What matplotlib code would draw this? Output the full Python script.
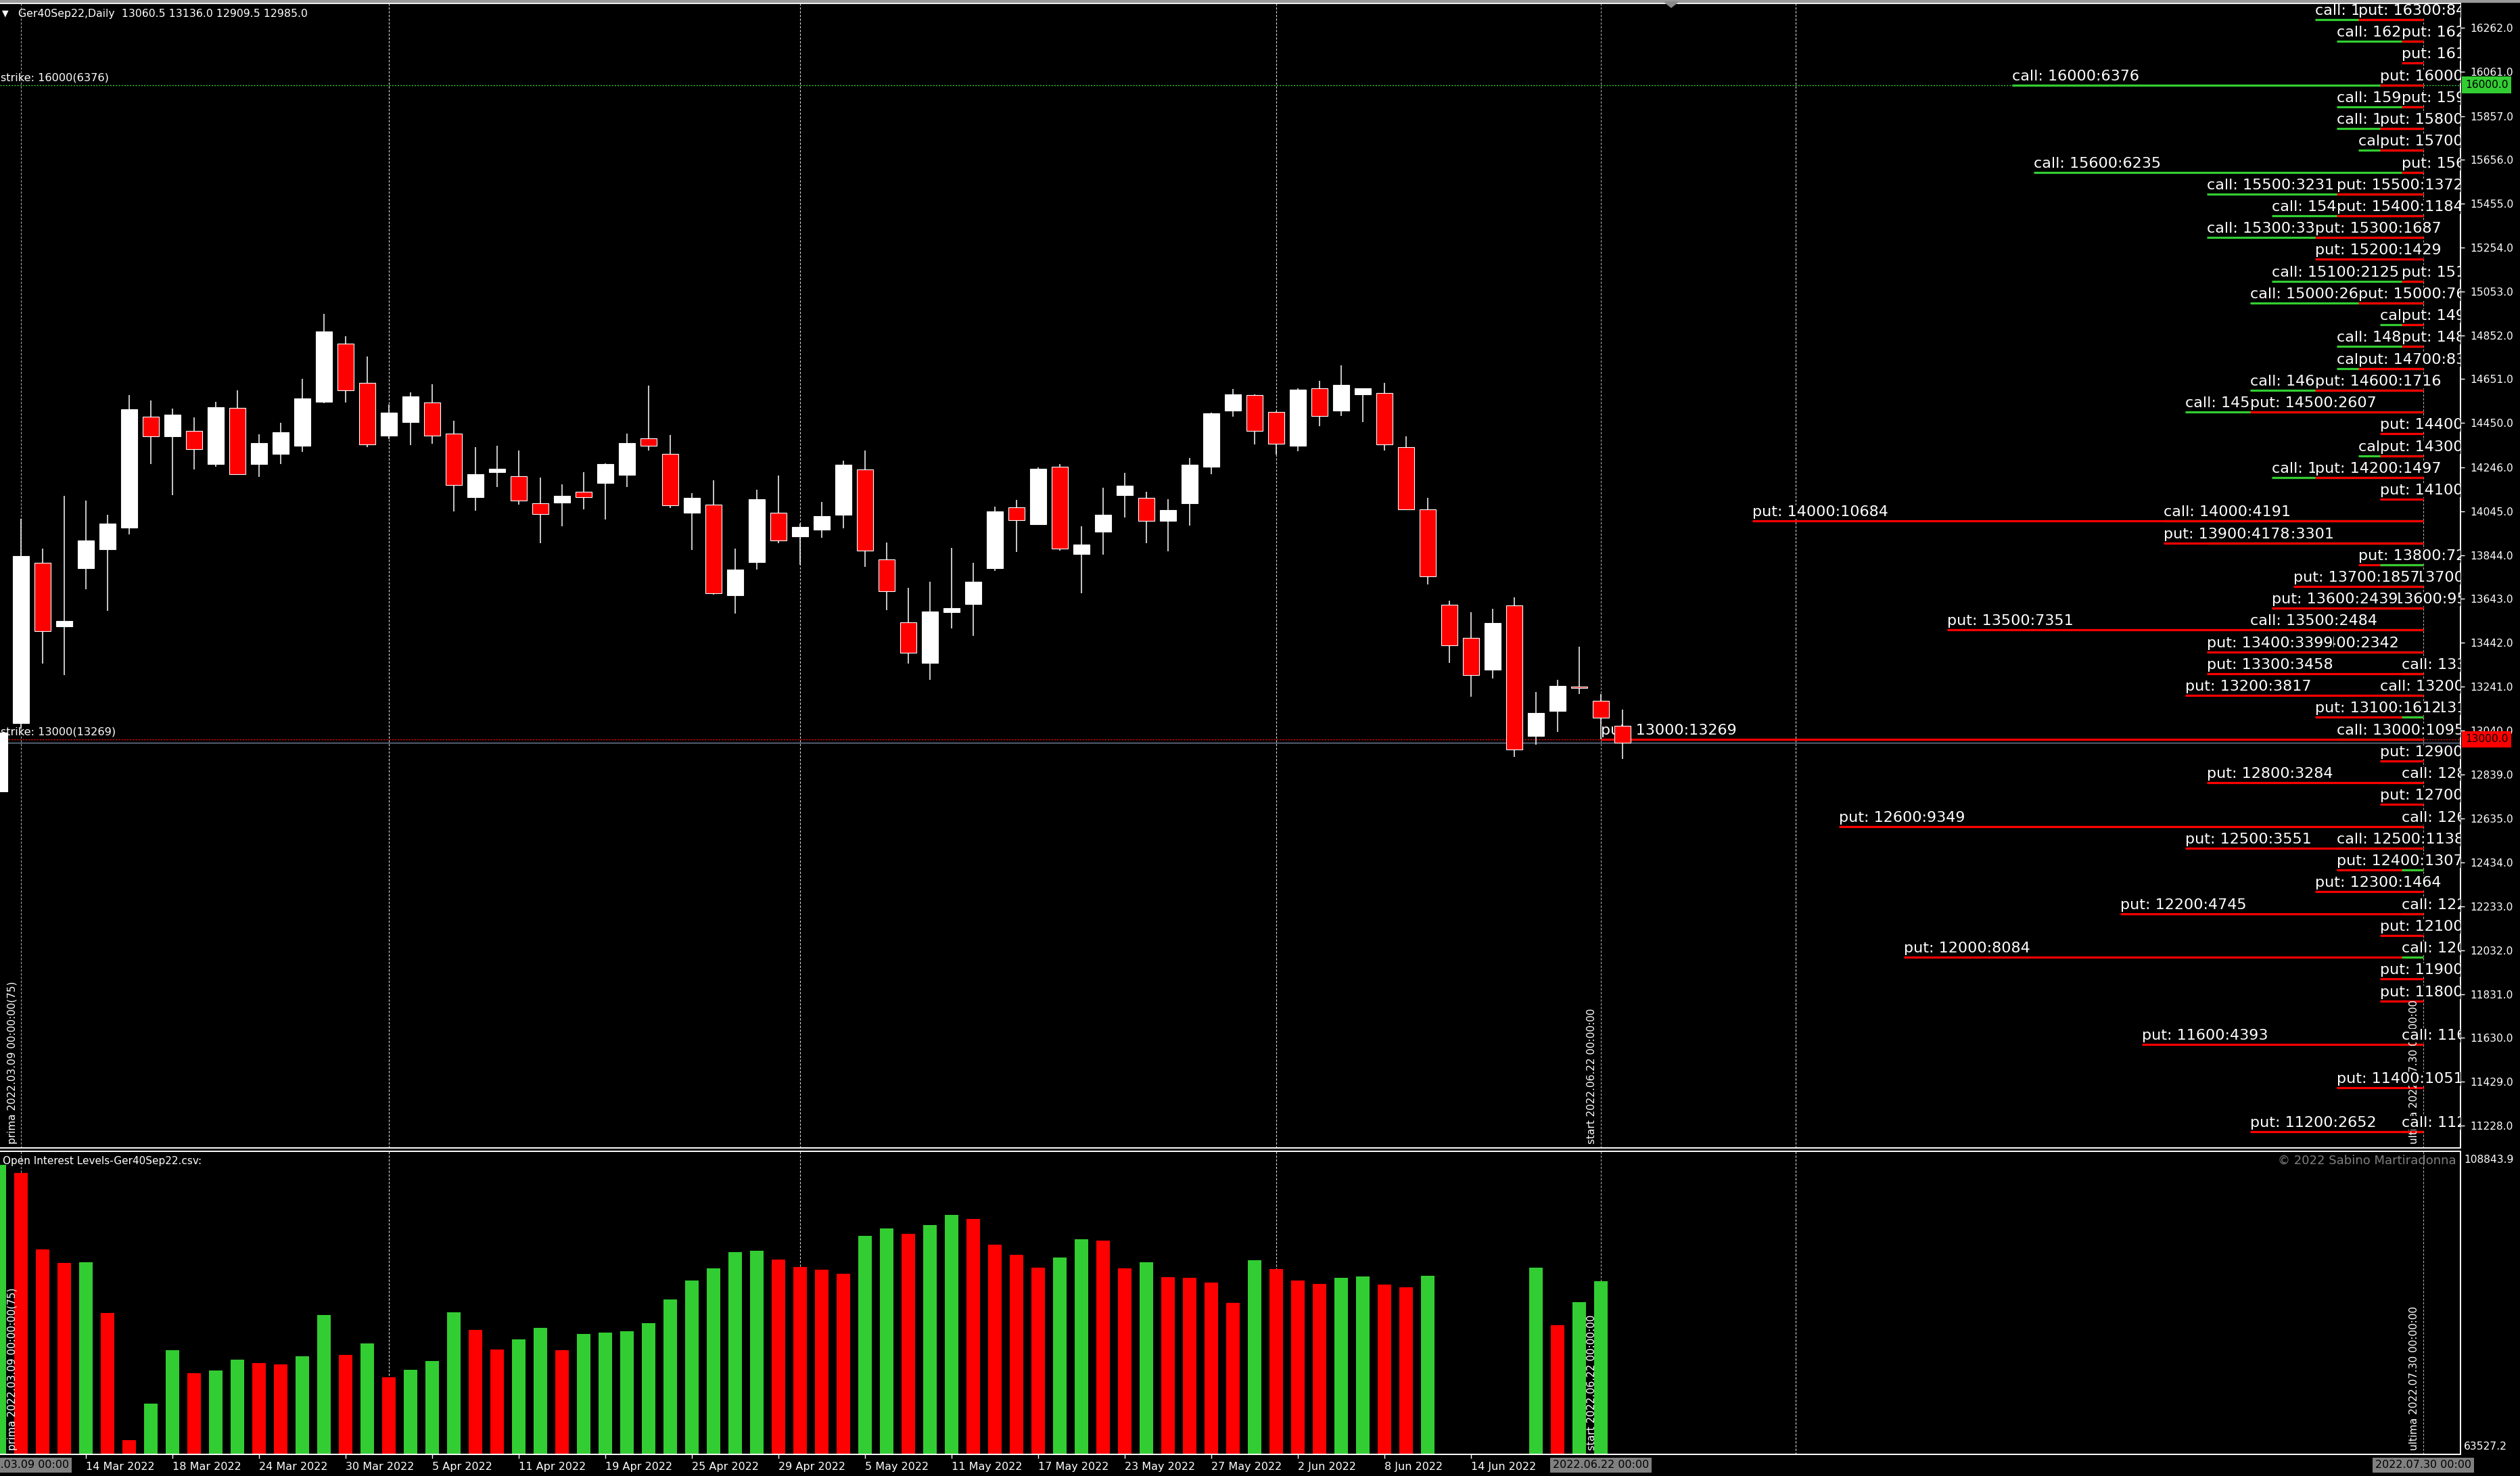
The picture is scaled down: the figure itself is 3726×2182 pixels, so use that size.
import math
import numpy as np
import matplotlib
matplotlib.use("Agg")
import matplotlib.pyplot as plt
from matplotlib import transforms
from matplotlib.patches import Rectangle, Polygon

# ---------------- data ----------------
# bar index 0 = 2022.03.09 ; index -1 = previous day (partly visible)
bar_idx = np.arange(-1, 75)
opens = [12760, 13072, 13810, 13518, 13785, 13872, 13969, 14480, 14389, 14414,
         14260, 14518, 14263, 14309, 14345, 14547, 14813, 14633, 14392, 14455,
         14544, 14400, 14108, 14223, 14205, 14083, 14084, 14133, 14176, 14212,
         14379, 14307, 14039, 14075, 13659, 13812, 14037, 13931, 13962, 14028,
         14238, 13823, 13535, 13348, 13583, 13618, 13785, 14062, 13987, 14248,
         13850, 13950, 14120, 14106, 14000, 14083, 14250, 14508, 14577, 14500,
         14345, 14609, 14507, 14581, 14586, 14340, 14055, 13615, 13463, 13320,
         13612, 13015, 13130, 13240, 13176, 13060.5]
highs = [13045, 14011, 13875, 14115, 14094, 14030, 14577, 14554, 14516, 14476,
         14547, 14600, 14399, 14451, 14652, 14950, 14847, 14755, 14534, 14590,
         14627, 14460, 14339, 14345, 14324, 14201, 14169, 14224, 14265, 14401,
         14622, 14395, 14129, 14187, 13875, 14144, 14208, 13990, 14088, 14277,
         14324, 13903, 13695, 13723, 13878, 13809, 14066, 14097, 14246, 14263,
         13976, 14154, 14221, 14134, 14100, 14289, 14498, 14606, 14581, 14505,
         14608, 14642, 14714, 14610, 14634, 14389, 14106, 13634, 13582, 13598,
         13650, 13216, 13271, 13424, 13208, 13136.0]
lows = [12740, 13050, 13346, 13294, 13688, 13589, 13940, 14260, 14118, 14238,
        14249, 14212, 14202, 14262, 14316, 14540, 14544, 14339, 14377, 14349,
        14354, 14044, 14047, 14155, 14076, 13900, 13976, 14055, 14007, 14155,
        14324, 14059, 13867, 13663, 13576, 13778, 13899, 13800, 13924, 13968,
        13791, 13590, 13345, 13271, 13508, 13475, 13770, 13857, 13985, 13864,
        13670, 13845, 14015, 13900, 13860, 13978, 14216, 14480, 14353, 14304,
        14322, 14435, 14483, 14455, 14325, 14050, 13709, 13349, 13193, 13277,
        12917, 12975, 13033, 13208, 13000, 12909.5]
closes = [13030, 13839, 13494, 13541, 13911, 13989, 14512, 14388, 14487, 14331,
          14522, 14216, 14357, 14407, 14562, 14870, 14601, 14353, 14497, 14572,
          14393, 14165, 14214, 14239, 14093, 14033, 14116, 14111, 14262, 14357,
          14346, 14073, 14106, 13670, 13778, 14100, 13911, 13974, 14022, 14259,
          13866, 13679, 13397, 13586, 13601, 13722, 14044, 14003, 14239, 13874,
          13892, 14029, 14162, 14000, 14051, 14259, 14494, 14581, 14412, 14356,
          14602, 14483, 14624, 14608, 14353, 14055, 13748, 13429, 13294, 13533,
          12954, 13121, 13244, 13234, 13098, 12985.0]

# open interest total per day (lower panel), index -1 .. 73
oi_idx = np.arange(-1, 74)
nan = float("nan")
oi_vals = [106800, 105610, 94180, 92155, 92256, 84669, 65651, 71114, 79106, 75666,
           76070, 77689, 77184, 76981, 78195, 84366, 78398, 80117, 75059, 76172,
           77487, 84771, 82141, 79207, 80725, 82444, 79106, 81534, 81737, 81939,
           83153, 86693, 89526, 91346, 93774, 93976, 92661, 91549, 91144, 90537,
           96202, 97314, 96505, 97820, 99338, 98731, 94887, 93369, 91447, 92964,
           95696, 95493, 91346, 92256, 90031, 89930, 89222, 86187, 92560, 91245,
           89526, 89020, 89930, 90132, 88919, 88514, 90233, nan, nan, nan,
           nan, 91447, 82849, 86288, 89424]
oi_range = (63527.2, 108843.9)

# option strikes with call / put open interest
strikes = [16300, 16200, 16100, 16000, 15900, 15800, 15700, 15600, 15500, 15400,
           15300, 15200, 15100, 15000, 14900, 14800, 14700, 14600, 14500, 14400,
           14300, 14200, 14100, 14000, 13900, 13800, 13700, 13600, 13500, 13400,
           13300, 13200, 13100, 13000, 12900, 12800, 12700, 12600, 12500, 12400,
           12300, 12200, 12100, 12000, 11900, 11800, 11700, 11600, 11500, 11400,
           11300, 11200]
call_oi = [1600, 1250, 0, 6376, 1190, 1120, 880, 6235, 3231, 2300,
           3350, 0, 2125, 2650, 560, 1200, 1150, 2600, 3700, 0,
           920, 2250, 0, 4191, 3301, 520, 600, 950, 2484, 2342,
           260, 480, 310, 1095, 0, 240, 0, 200, 1138, 150,
           0, 260, 0, 190, 0, 0, 0, 220, 0, 0,
           0, 170]
put_oi = [840, 210, 180, 520, 300, 600, 450, 150, 1372, 1184,
          1687, 1429, 250, 760, 230, 280, 830, 1716, 2607, 610,
          520, 1497, 560, 10684, 4178, 720, 1857, 2439, 7351, 3399,
          3458, 3817, 1612, 13269, 590, 3284, 520, 9349, 3551, 1307,
          1464, 4745, 480, 8084, 430, 400, 0, 4393, 0, 1051,
          0, 2652]
call_on_top = [13800, 13100, 12400, 12000]

price_ticks = [16262, 16061, 15857, 15656, 15455, 15254, 15053, 14852, 14651, 14450,
               14246, 14045, 13844, 13643, 13442, 13241, 13040, 12839, 12635, 12434,
               12233, 12032, 11831, 11630, 11429, 11228]
date_idx = [3, 7, 11, 15, 19, 23, 27, 31, 35, 39, 43, 47, 51, 55, 59, 63, 67]
date_lbl = ['14 Mar 2022', '18 Mar 2022', '24 Mar 2022', '30 Mar 2022', '5 Apr 2022',
            '11 Apr 2022', '19 Apr 2022', '25 Apr 2022', '29 Apr 2022', '5 May 2022',
            '11 May 2022', '17 May 2022', '23 May 2022', '27 May 2022', '2 Jun 2022',
            '8 Jun 2022', '14 Jun 2022']
month_grid = [17, 36, 58, 82]
prima_i, start_i, ultima_i = 0, 73, 111
prima_txt = 'prima 2022.03.09 00:00:00(75)'
start_txt = 'start 2022.06.22 00:00:00'
ultima_txt = 'ultima 2022.07.30 00:00:00'
box_txt = {0: '2022.03.09 00:00', 73: '2022.06.22 00:00', 111: '2022.07.30 00:00'}
header = 'Ger40Sep22,Daily  13060.5 13136.0 12909.5 12985.0'

# ---------------- layout ----------------
W, H, DPI = 3726, 2182, 100
PX0, PXBAR = 31, 32
RIGHT_PX = 3638
MAIN_TOP, MAIN_BOT = 5, 1697
VOL_TOP, VOL_BOT = 1702, 2150
def price_at(y):
    return 16389.5 - 3.102 * y

GREEN = '#32cd32'
RED = '#ff0000'
R_END = 111
OI_PER_BAR = 349.5

fig = plt.figure(figsize=(W / DPI, H / DPI), dpi=DPI, facecolor='black')
xlim = ((0 - PX0) / PXBAR, (RIGHT_PX - PX0) / PXBAR)
ax = fig.add_axes([0, 1 - MAIN_BOT / H, RIGHT_PX / W, (MAIN_BOT - MAIN_TOP) / H], facecolor='black')
axv = fig.add_axes([0, 1 - VOL_BOT / H, RIGHT_PX / W, (VOL_BOT - VOL_TOP) / H], facecolor='black')

for a in (ax, axv):
    a.set_xlim(*xlim)
    for sp in ('top', 'right', 'bottom'):
        a.spines[sp].set_color('white')
        a.spines[sp].set_linewidth(1.4)
    a.spines['left'].set_visible(False)
    # vertical lines
    for g in month_grid:
        a.axvline(g, color='#d8d8d8', lw=0.8, ls=(0, (3, 2)), zorder=1)
    for g in (prima_i, start_i, ultima_i):
        a.axvline(g, color='#a8a8a8', lw=0.8, ls=(0, (3, 2)), zorder=1)

ax.set_ylim(price_at(MAIN_BOT), price_at(MAIN_TOP))

# ---- candles ----
o = np.array(opens, float); h = np.array(highs, float)
l = np.array(lows, float); c = np.array(closes, float)
up = c >= o
ax.vlines(bar_idx, l, h, color='white', lw=1.1, zorder=4)
ax.bar(bar_idx[up], (c - o)[up], bottom=o[up], width=0.77, color='white',
       edgecolor='white', lw=0.8, zorder=5)
ax.bar(bar_idx[~up], (o - c)[~up], bottom=c[~up], width=0.77, color=RED,
       edgecolor='white', lw=0.8, zorder=5)

# ---- strike lines ----
ci = int(np.argmax(call_oi)); pi = int(np.argmax(put_oi))
max_call_strike, max_put_strike = strikes[ci], strikes[pi]
ax.axhline(max_call_strike, color=GREEN, lw=1.0, ls=(0, (1.5, 1.5)), zorder=1.5)
ax.axhline(max_put_strike, color=RED, lw=1.0, ls=(0, (1.5, 1.5)), zorder=1.5)
ax.axhline(closes[-1], color='#8090a8', lw=0.9, zorder=1.5)
left_tr = transforms.offset_copy(transforms.blended_transform_factory(ax.transAxes, ax.transData),
                                 fig=fig, x=1, y=3, units='dots')
ax.text(0, max_call_strike, f'strike: {max_call_strike}({call_oi[ci]})', transform=left_tr,
        color='white', fontsize=11.6, va='bottom', ha='left', zorder=3)
ax.text(0, max_put_strike, f'strike: {max_put_strike}({put_oi[pi]})', transform=left_tr,
        color='white', fontsize=11.6, va='bottom', ha='left', zorder=3)

# ---- option open interest lines and labels ----
lbl_tr = transforms.offset_copy(ax.transData, fig=fig, x=0, y=3, units='dots')
for s, cv, pv in zip(strikes, call_oi, put_oi):
    nc = math.ceil(cv / OI_PER_BAR) if cv > 0 else 0
    npb = math.ceil(pv / OI_PER_BAR) if pv > 0 else 0
    ctop = s in call_on_top
    if nc:
        ax.hlines(s, R_END - nc, R_END, colors=GREEN, lw=2.3, zorder=2.2 if ctop else 2.0)
        ax.text(R_END - nc, s, f'call: {s}:{cv}', transform=lbl_tr, color='white',
                fontsize=16, va='bottom', ha='left', clip_on=True, zorder=3.0,
                bbox=dict(boxstyle='square,pad=0', fc='black', ec='none'))
    if npb:
        ax.hlines(s, R_END - npb, R_END, colors=RED, lw=2.3, zorder=2.1)
        ax.text(R_END - npb, s, f'put: {s}:{pv}', transform=lbl_tr, color='white',
                fontsize=16, va='bottom', ha='left', clip_on=True, zorder=3.1,
                bbox=dict(boxstyle='square,pad=0', fc='black', ec='none'))

# ---- price axis ----
ax.yaxis.tick_right()
ax.set_yticks(price_ticks)
ax.set_yticklabels([f'{v:.1f}' for v in price_ticks])
ax.tick_params(axis='y', colors='white', length=4, width=1, pad=6, labelsize=11.2)
ax.set_xticks([])
for val, col in ((max_call_strike, GREEN), (max_put_strike, RED)):
    ax.annotate(f'{val:.1f}', xy=(1, val), xycoords=('axes fraction', 'data'),
                xytext=(7, 0), textcoords='offset pixels', ha='left', va='center',
                color='black', fontsize=11.2, annotation_clip=False, zorder=10,
                bbox=dict(boxstyle='square,pad=0.3', fc=col, ec='none'))

# ---- lower panel: open interest ----
axv.set_ylim(*oi_range)
vals = np.array(oi_vals, float)
cols, prev = [], None
for v in vals:
    if np.isnan(v):
        cols.append(GREEN)
        continue
    cols.append(GREEN if (prev is None or v >= prev) else RED)
    prev = v
ok = ~np.isnan(vals)
axv.bar(oi_idx[ok], vals[ok], width=0.6, color=np.array(cols)[ok], zorder=2)
axv.set_yticks([])
axv.set_xticks(date_idx)
axv.set_xticklabels(date_lbl)
for t in axv.get_xticklabels():
    t.set_ha('left')
axv.tick_params(axis='x', colors='white', length=4, width=1, pad=4, labelsize=11.5)
axv.annotate(f'{oi_range[1]:.1f}', xy=(1, 1), xycoords='axes fraction', xytext=(5, -5),
             textcoords='offset pixels', ha='left', va='top', color='white', fontsize=11.2,
             annotation_clip=False)
axv.annotate(f'{oi_range[0]:.1f}', xy=(1, 0), xycoords='axes fraction', xytext=(5, 4),
             textcoords='offset pixels', ha='left', va='bottom', color='white', fontsize=11.2,
             annotation_clip=False)
axv.annotate('Open Interest Levels-Ger40Sep22.csv:', xy=(0, 1), xycoords='axes fraction',
             xytext=(4, -7), textcoords='offset pixels', ha='left', va='top', color='white',
             fontsize=11, zorder=4)
axv.annotate('\u00a9 2022 Sabino Martiradonna', xy=(1, 1), xycoords='axes fraction',
             xytext=(-6, -5), textcoords='offset pixels', ha='right', va='top',
             color='#7f7f7f', fontsize=13, zorder=4)

# ---- vertical marker labels ----
for a, zo in ((ax, 2.5), (axv, 3)):
    for idx, txt in ((prima_i, prima_txt), (start_i, start_txt), (ultima_i, ultima_txt)):
        a.annotate(txt, xy=(idx, 0), xycoords=('data', 'axes fraction'), xytext=(-13, 6),
                   textcoords='offset pixels', rotation=90, rotation_mode='anchor',
                   ha='left', va='center', color='white', fontsize=11, zorder=zo,
                   annotation_clip=False)

for idx, txt in box_txt.items():
    axv.annotate(txt, xy=(idx, 0), xycoords=('data', 'axes fraction'), xytext=(0, -16),
                 textcoords='offset pixels', ha='center', va='center', color='black',
                 fontsize=11.5, annotation_clip=False, zorder=10,
                 bbox=dict(boxstyle='square,pad=0.25', fc='#808080', ec='none'))

# ---- header & window decorations ----
fig.patches.append(Rectangle((0, 1 - 3 / H), 1, 3 / H, transform=fig.transFigure,
                             color='#9a9a9a', zorder=0))
fig.patches.append(Polygon([(2461 / W, 1 - 3 / H), (2481 / W, 1 - 3 / H), (2471 / W, 1 - 11 / H)],
                           closed=True, transform=fig.transFigure, color='#8a8a8a'))
fig.text(3 / W, 1 - 20 / H, '\u25bc', color='white', fontsize=9, va='center', ha='left')
fig.text(27 / W, 1 - 20 / H, header, color='white', fontsize=11.3, va='center', ha='left')

fig.savefig('out.png', dpi=DPI, facecolor='black')
